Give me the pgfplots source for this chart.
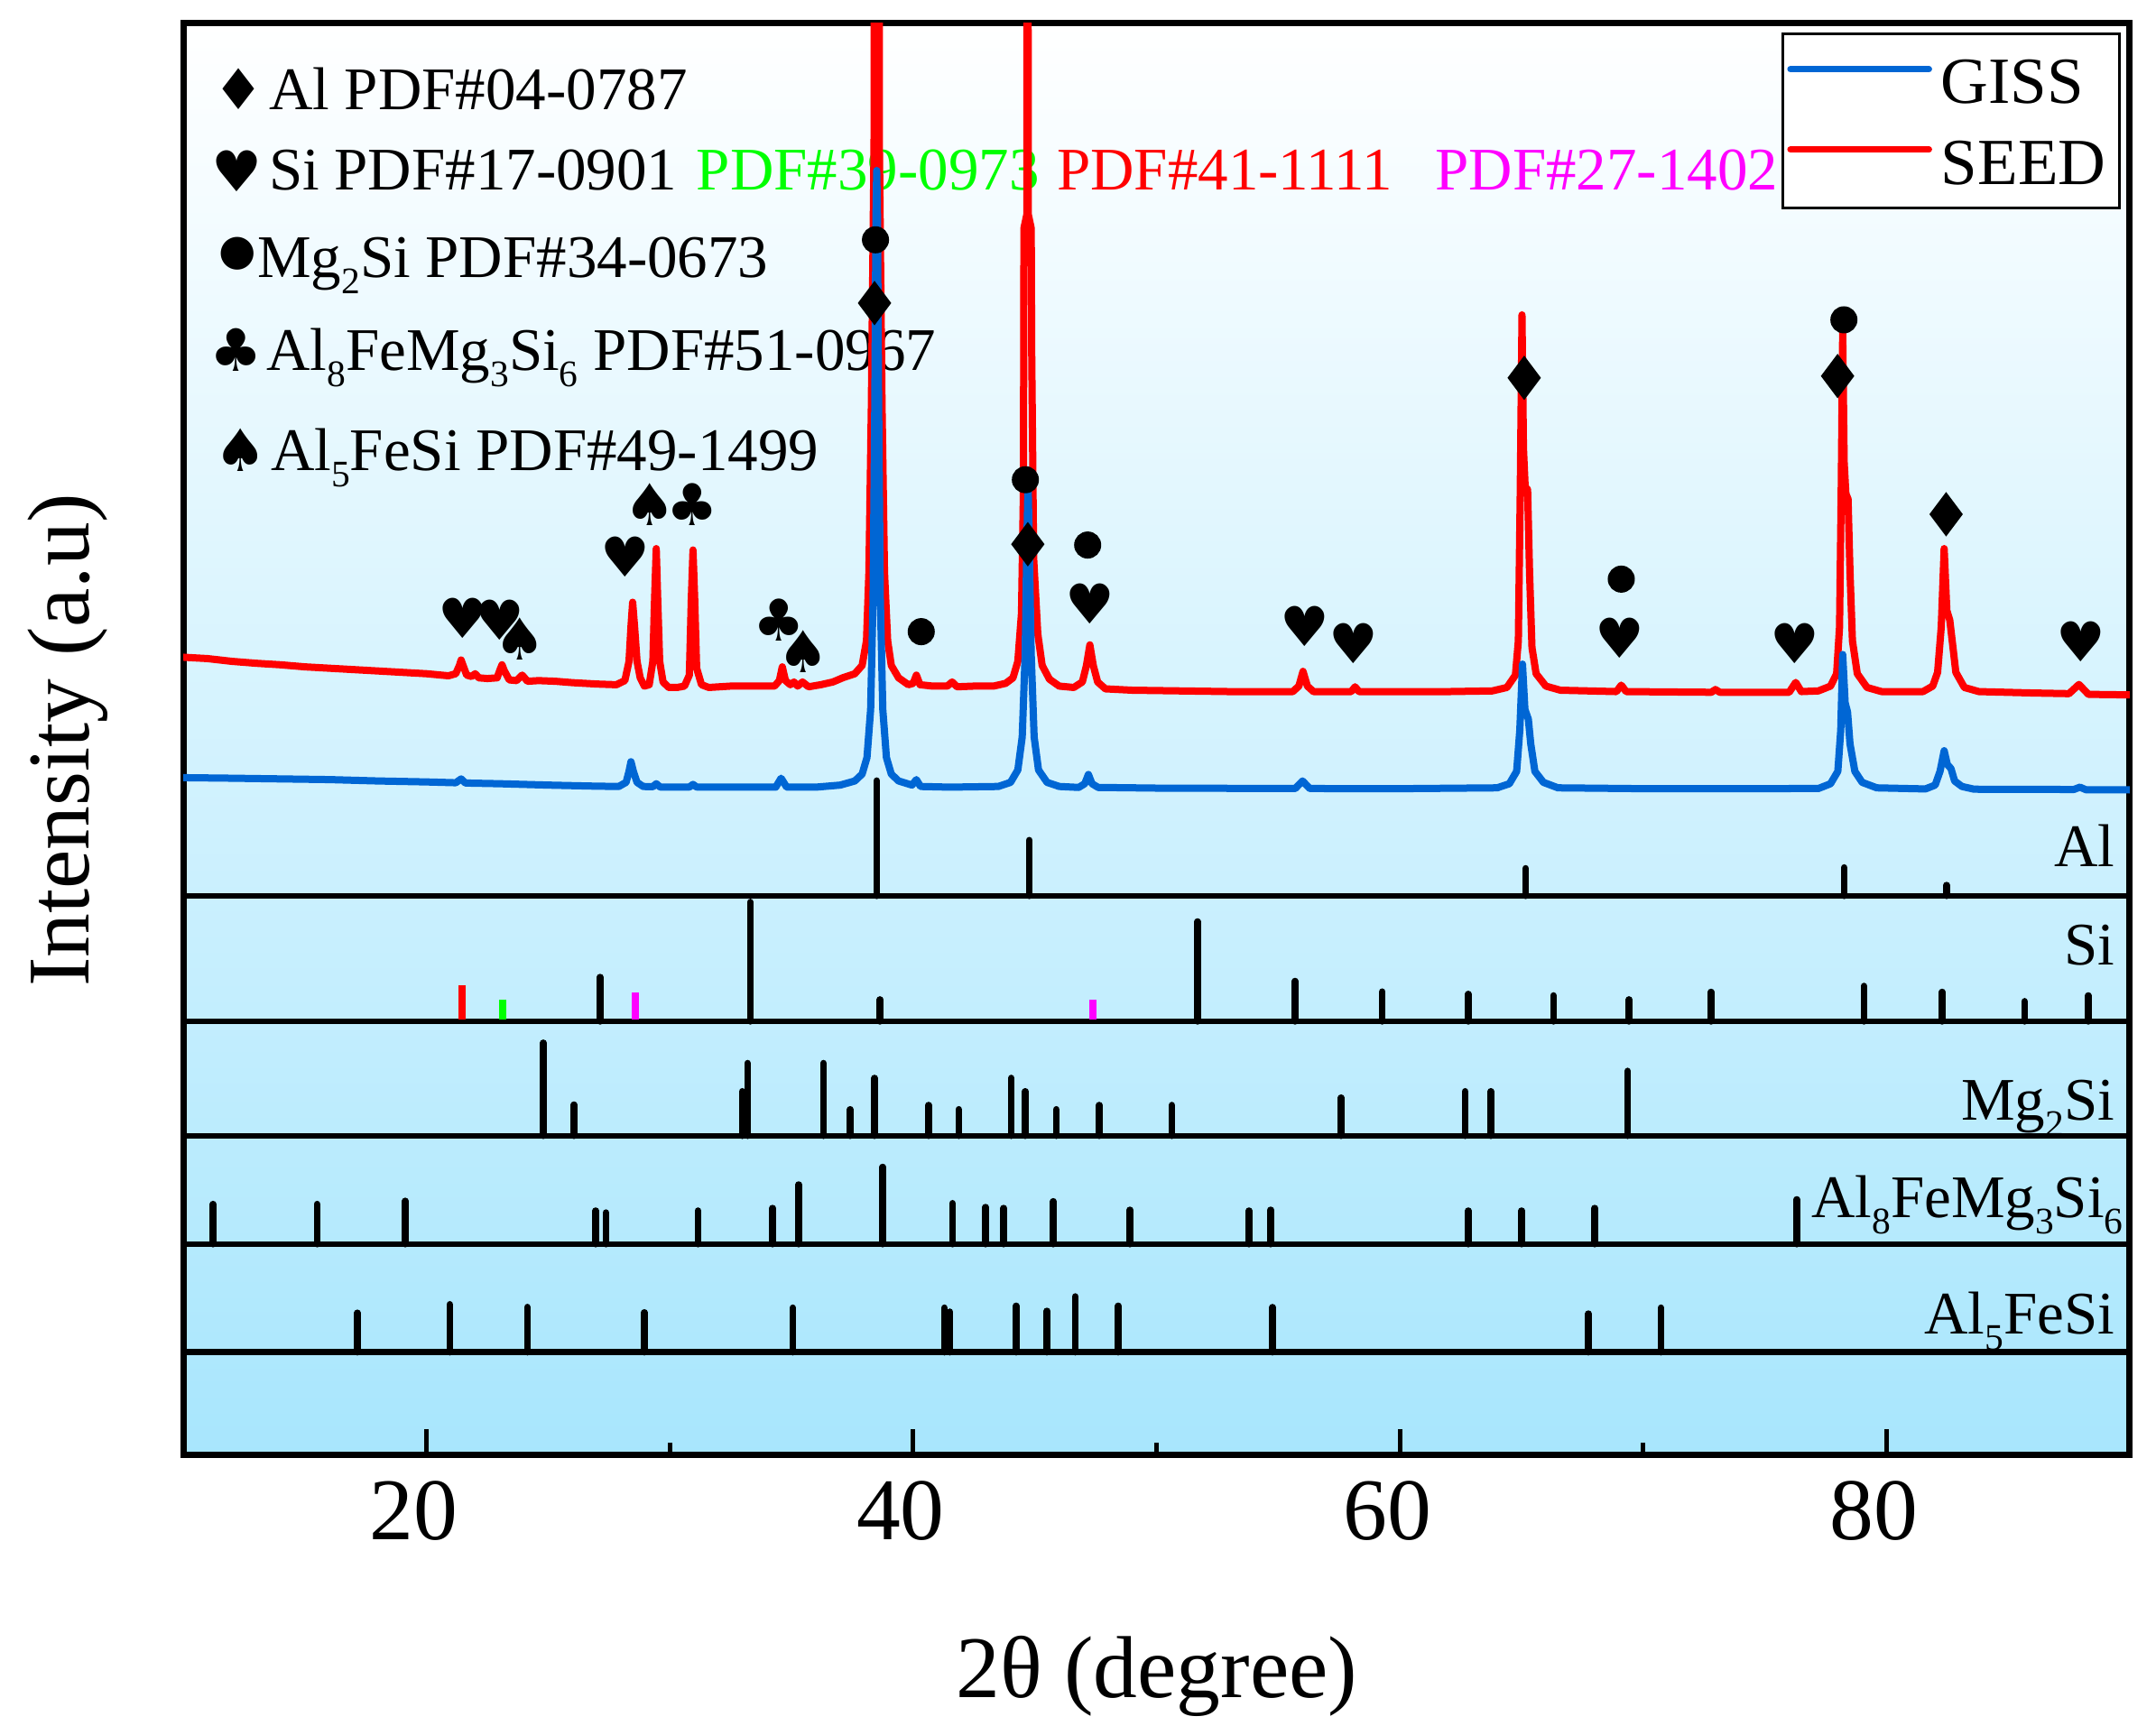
\documentclass[border=0pt]{standalone}
\usepackage{fontspec}
\setmainfont{Liberation Serif}
\newfontfamily\symf{DejaVu Sans}
\usepackage{pgfplots}
\pgfplotsset{compat=1.18}
\definecolor{bluec}{RGB}{0,102,212}
\definecolor{bgc}{RGB}{168,230,253}
\definecolor{grn}{RGB}{0,255,0}
\definecolor{mag}{RGB}{255,0,255}
\newcommand{\sub}[1]{\raisebox{-3.6pt}{\fontsize{8.3}{9}\selectfont #1}}
\tikzset{ann/.style={inner sep=0pt, font=\fontsize{13.4}{16}\selectfont}}
\pgfplotsset{
  stick/.style={black, line width=1.5pt, line cap=round, forget plot},
  cstick/.style={line width=1.6pt, line cap=butt, forget plot},
  sep/.style={black, line width=1.3pt, forget plot},
  tmark/.style 2 args={only marks, mark=text, text mark={#1}, text mark as node=true,
     text mark style={font=\symf\fontsize{#2}{#2}\selectfont, inner sep=0pt, anchor=center, text=black},
     color=black, forget plot},
}
\begin{document}
\begin{tikzpicture}
\path[use as bounding box] (-40.6pt,-62pt) rectangle (437.1pt,322.4pt);
\begin{axis}[
  at={(0,0)}, anchor=south west,
  scale only axis, width=431.3pt, height=317.3pt,
  xmin=10, xmax=90, ymin=-2, ymax=1039.3,
  axis background/.style={top color=white, bottom color=bgc},
  axis line style={line width=1.4pt},
  xtick={20,40,60,80}, minor xtick={30,50,70},
  tick pos=left, ytick=\empty,
  tick align=inside,
  major tick length=5.7pt, minor tick length=2.7pt,
  tick style={black, line width=1pt},
  /pgf/number format/assume math mode=true,
  xticklabel style={font=\fontsize{19.5}{20}\selectfont, anchor=base, yshift=-18.8pt, xshift=-2.8pt},
  unbounded coords=jump,
  legend style={at={(rel axis cs:1,1)}, anchor=north east, xshift=-2pt, yshift=-2.2pt,
     draw=black, line width=0.6pt, fill=white, font=\fontsize{14.6}{16}\selectfont,
     inner xsep=1pt, inner ysep=1.5pt, row sep=0.1pt,
     nodes={inner xsep=2pt, inner ysep=1.5pt, text height=12.4pt, text depth=2.3pt}},
  legend cell align=left,
  legend image code/.code={\draw[#1, line width=1.4pt, line cap=round] (0pt,2.6pt) -- (30.7pt,2.6pt);},
]
\addlegendimage{bluec}\addlegendentry{GISS}
\addlegendimage{red}\addlegendentry{SEED}

% panel separators
\addplot[sep] coordinates {(10,404.5)(90,404.5)};
\addplot[sep] coordinates {(10,313.2)(90,313.2)};
\addplot[sep] coordinates {(10,230)(90,230)};
\addplot[sep] coordinates {(10,151.2)(90,151.2)};
\addplot[sep] coordinates {(10,72.6)(90,72.6)};

% Al sticks
\addplot[stick] coordinates {(38.50,404.5)(38.50,488.2)(38.50,nan)(44.77,404.5)(44.77,444.9)(44.77,nan)
 (65.17,404.5)(65.17,424.4)(65.17,nan)(78.26,404.5)(78.26,425)(78.26,nan)(82.47,404.5)(82.47,412.2)};
% Si sticks
\addplot[stick] coordinates {(27.13,313.2)(27.13,345.3)(27.13,nan)(33.30,313.2)(33.30,399.9)(33.30,nan)
 (38.64,313.2)(38.64,329)(38.64,nan)(51.68,313.2)(51.68,385.7)(51.68,nan)(55.69,313.2)(55.69,342.4)(55.69,nan)
 (59.28,313.2)(59.28,334.7)(59.28,nan)(62.81,313.2)(62.81,333)(62.81,nan)(66.31,313.2)(66.31,331.9)(66.31,nan)
 (69.42,313.2)(69.42,329)(69.42,nan)(72.79,313.2)(72.79,334.5)(72.79,nan)(79.07,313.2)(79.07,338.8)(79.07,nan)
 (82.29,313.2)(82.29,334.5)(82.29,nan)(85.67,313.2)(85.67,327.7)(85.67,nan)(88.29,313.2)(88.29,331.9)};
\addplot[cstick, red] coordinates {(21.47,314.5)(21.47,339.6)};
\addplot[cstick, grn] coordinates {(23.14,314.5)(23.14,329)};
\addplot[cstick, mag] coordinates {(28.58,314.5)(28.58,334.5)(28.58,nan)(47.37,314.5)(47.37,329)};
% Mg2Si sticks
\addplot[stick] coordinates {(24.80,230)(24.80,297.5)(24.80,nan)(26.06,230)(26.06,252.5)(26.06,nan)
 (32.98,230)(32.98,262.2)(32.98,nan)(33.19,230)(33.19,282.7)(33.19,nan)(36.31,230)(36.31,282.7)(36.31,nan)
 (37.41,230)(37.41,249.1)(37.41,nan)(38.41,230)(38.41,271.9)(38.41,nan)(40.63,230)(40.63,252.2)(40.63,nan)
 (41.87,230)(41.87,249.1)(41.87,nan)(44.03,230)(44.03,271.9)(44.03,nan)(44.61,230)(44.61,262.2)(44.61,nan)
 (45.88,230)(45.88,249.1)(45.88,nan)(47.65,230)(47.65,252.2)(47.65,nan)(50.63,230)(50.63,252.2)(50.63,nan)
 (57.59,230)(57.59,257.6)(57.59,nan)(62.68,230)(62.68,262.2)(62.68,nan)(63.74,230)(63.74,262.2)(63.74,nan)
 (69.36,230)(69.36,277)};
% Al8FeMg3Si6 sticks
\addplot[stick] coordinates {(11.23,151.2)(11.23,180.2)(11.23,nan)(15.50,151.2)(15.50,180.2)(15.50,nan)
 (19.13,151.2)(19.13,182.5)(19.13,nan)(26.95,151.2)(26.95,175.4)(26.95,nan)(27.37,151.2)(27.37,174)(27.37,nan)
 (31.15,151.2)(31.15,175.4)(31.15,nan)(34.22,151.2)(34.22,177.3)(34.22,nan)(35.29,151.2)(35.29,194.4)(35.29,nan)
 (38.75,151.2)(38.75,207.2)(38.75,nan)(41.61,151.2)(41.61,180.8)(41.61,nan)(42.98,151.2)(42.98,178)(42.98,nan)
 (43.72,151.2)(43.72,177.3)(43.72,nan)(45.76,151.2)(45.76,182.2)(45.76,nan)(48.91,151.2)(48.91,176)(48.91,nan)
 (53.80,151.2)(53.80,175.4)(53.80,nan)(54.69,151.2)(54.69,176)(54.69,nan)(62.81,151.2)(62.81,175.4)(62.81,nan)
 (65.01,151.2)(65.01,175.4)(65.01,nan)(68.01,151.2)(68.01,177.3)(68.01,nan)(76.31,151.2)(76.31,183.6)};
% Al5FeSi sticks
\addplot[stick] coordinates {(17.16,72.6)(17.16,101.1)(17.16,nan)(20.95,72.6)(20.95,107.3)(20.95,nan)
 (24.14,72.6)(24.14,105.3)(24.14,nan)(28.95,72.6)(28.95,101.4)(28.95,nan)(35.05,72.6)(35.05,104.8)(35.05,nan)
 (41.28,72.6)(41.28,104.8)(41.28,nan)(41.50,72.6)(41.50,101.9)(41.50,nan)(44.23,72.6)(44.23,106.2)(44.23,nan)
 (45.50,72.6)(45.50,102.5)(45.50,nan)(46.66,72.6)(46.66,113)(46.66,nan)(48.43,72.6)(48.43,106.2)(48.43,nan)
 (54.77,72.6)(54.77,105.2)(54.77,nan)(67.75,72.6)(67.75,100.5)(67.75,nan)(70.73,72.6)(70.73,104.8)};

% annotation block
\node[ann, anchor=center, font=\symf\fontsize{12.5}{13}\selectfont] at (axis cs:12.28,990.9) {♦};
\node[ann, anchor=base west] at (axis cs:13.49,976.3) {Al PDF\#04-0787};
\node[ann, anchor=center, font=\symf\fontsize{12.5}{13}\selectfont] at (axis cs:12.20,931.2) {♥};
\node[ann, anchor=base west] at (axis cs:13.49,917.7) {Si PDF\#17-0901};
\node[ann, anchor=base west, text=grn] at (axis cs:31.06,917.7) {PDF\#39-0973};
\node[ann, anchor=base west, text=red] at (axis cs:45.87,917.7) {PDF\#41-1111};
\node[ann, anchor=base west, text=mag] at (axis cs:61.42,917.7) {PDF\#27-1402};
\node[ann, anchor=center, font=\symf\fontsize{9.5}{10}\selectfont] at (axis cs:12.25,871.5) {●};
\node[ann, anchor=base west] at (axis cs:13.01,854.4) {Mg\sub{2}Si PDF\#34-0673};
\node[ann, anchor=center, font=\symf\fontsize{13}{13}\selectfont] at (axis cs:12.16,801.7) {♣};
\node[ann, anchor=base west] at (axis cs:13.39,786.4) {Al\sub{8}FeMg\sub{3}Si\sub{6} PDF\#51-0967};
\node[ann, anchor=center, font=\symf\fontsize{13}{13}\selectfont] at (axis cs:12.36,728.4) {♠};
\node[ann, anchor=base west] at (axis cs:13.56,713.8) {Al\sub{5}FeSi PDF\#49-1499};

% panel labels
\node[ann, anchor=base east] at (axis cs:89.41,425.5) {Al};
\node[ann, anchor=base east] at (axis cs:89.41,354.4) {Si};
\node[ann, anchor=base east] at (axis cs:89.41,241.4) {Mg\sub{2}Si};
\node[ann, anchor=base east] at (axis cs:89.76,170.3) {Al\sub{8}FeMg\sub{3}Si\sub{6}};
\node[ann, anchor=base east] at (axis cs:89.41,85.7) {Al\sub{5}FeSi};

% SEED
\addplot[red, line width=1.6pt, line join=round, forget plot] coordinates {
(10,578)(11,577)(12,575)(13,573.6)(14,572.5)(15,571)(16,570)(17,569)(18,568)(19,567)(20,566)
(20.9,564.5)(21.2,566)(21.35,572)(21.42,576)(21.5,572)(21.65,565)(21.85,564)(22.0,566)(22.15,563)
(22.5,562.5)(22.9,563)(23.02,569)(23.1,572.5)(23.2,568)(23.4,561.5)(23.7,561)(23.93,565)(24.15,560.5)
(24.6,561)(25.3,560.5)(26,559.5)(27,558.5)(27.8,558)(28.15,561)(28.32,575)(28.4,600)(28.47,618)
(28.55,600)(28.65,575)(28.78,563)(28.95,557)(29.15,558)(29.3,575)(29.37,620)(29.44,657)(29.5,620)
(29.58,575)(29.72,560)(29.95,556)(30.3,556)(30.6,557)(30.8,565)(30.88,620)(30.95,656)(31.02,620)
(31.1,570)(31.3,558)(31.6,556)(32.5,557)(33.5,557)(34.3,557)(34.5,561)(34.62,571)(34.75,561)
(34.95,558)(35.1,560)(35.25,557)(35.45,560)(35.7,556.5)(36.2,558)(36.7,560)(37.1,563)(37.6,566)
(37.9,572)(38.08,590)(38.18,640)(38.28,760)(38.39,950)(38.40,1100)(38.60,1100)(38.61,950)(38.72,760)
(38.82,640)(38.95,590)(39.1,572)(39.4,563)(39.8,558)(40.0,559)(40.13,565)(40.28,558)(40.8,557)
(41.4,557)(41.6,560)(41.8,556.5)(42.5,557)(43.3,557)(43.8,559)(44.1,563)(44.3,575)(44.45,610)
(44.53,700)(44.55,890)(44.67,900)(44.68,1100)(44.72,1100)(44.73,900)(44.85,890)(44.87,800)(44.95,650)
(45.12,595)(45.3,572)(45.6,562)(46.0,557)(46.6,556)
(46.95,560)(47.12,572)(47.26,587)(47.4,572)(47.58,560)(47.9,555)(49,554)(51,553.5)(53,553)
(55.6,553)(55.85,557)(56.02,567.7)(56.2,557)(56.45,553)(58.0,553)(58.16,556.5)(58.32,553)(60,553)
(62,553)(63.8,553.5)(64.4,556)(64.75,565)(64.87,590)(64.95,700)(65.02,827)(65.08,730)(65.15,702)
(65.25,700)(65.33,640)(65.43,585)(65.6,566)(66.0,557)(66.6,554)(68.9,553)(69.1,557.7)(69.3,553)
(72.8,552.5)(72.97,554.5)(73.15,552.5)(76.0,552.5)(76.27,559.7)(76.5,553)(77.2,553.5)(77.7,557)
(77.95,566)(78.07,600)(78.14,700)(78.2,814)(78.26,720)(78.33,697)(78.42,693)(78.5,640)(78.6,590)
(78.8,566)(79.2,556)(79.8,553)(81.5,553)(81.9,557)(82.1,567)(82.25,600)(82.37,657)(82.48,612)
(82.6,605)(82.7,590)(82.85,567)(83.2,556)(83.8,553)(86,552)(87.5,551.5)(87.91,558.2)(88.3,551)(90,550.6)};
% GISS
\addplot[bluec, line width=1.6pt, line join=round, forget plot] coordinates {
(10,490.4)(12,490)(14,489.5)(16,489)(18,488)(20,487.3)(21.2,486.7)(21.42,489.5)(21.6,486.5)(23,486)
(25,485)(27,484.2)(27.9,484)(28.2,487)(28.32,495)(28.4,502)(28.5,495)(28.65,487)(28.9,484)(29.3,483.8)
(29.44,486)(29.6,483.6)(30.8,483.6)(30.95,485.5)(31.1,483.6)(33,483.5)(34.35,483.5)(34.57,490)(34.8,483.5)
(36,483.5)(37.0,485)(37.6,488)(37.9,493)(38.1,505)(38.25,540)(38.35,620)(38.42,760)(38.47,900)(38.5,932)
(38.53,900)(38.58,760)(38.65,620)(38.75,540)(38.9,505)(39.1,493)(39.4,488)(39.95,485)(40.13,489)(40.3,484)
(41.5,483.5)(43.5,484)(44.0,487)(44.3,496)(44.48,520)(44.6,580)(44.67,660)(44.72,706)(44.77,660)(44.85,580)
(44.97,520)(45.15,496)(45.5,487)(46.0,484)(46.8,483.3)(47.05,486)(47.2,492.7)(47.35,486)(47.6,483.3)
(50,482.8)(55.7,482.5)(56.0,488)(56.3,482.5)(60,482.4)(64.0,483)(64.5,486)(64.8,495)(64.93,525)(65.04,573)
(65.14,540)(65.28,533)(65.38,515)(65.55,495)(65.9,487)(66.5,483)(70,482.4)(77.2,482.5)(77.7,486)(78.0,495)
(78.12,525)(78.2,580)(78.3,545)(78.4,538)(78.5,515)(78.7,495)(79.0,487)(79.6,483)(81.6,482.2)(82.0,485)
(82.2,495)(82.37,510)(82.5,500)(82.65,497)(82.8,488)(83.1,484)(83.6,482)(87.7,481.8)(87.95,483.5)(88.2,481.6)(90,481.5)};

% peak markers
\addplot[tmark={♥}{12.2}] coordinates {(21.48,606.4)(23.02,605.3)(28.15,651.2)(47.25,617)(56.10,600.4)(58.11,587.8)(69.05,591.6)(76.24,587.8)(87.99,589.1)};
\addplot[tmark={♠}{12.8}] coordinates {(23.84,591.1)(29.17,689)(35.48,582.3)};
\addplot[tmark={♣}{12.8}] coordinates {(30.94,689)(34.49,605.3)};
\addplot[only marks, mark=*, mark size=2.8pt, black, forget plot] coordinates {(38.45,881.6)(40.33,596.6)(44.61,707.1)(47.17,659.6)(69.10,634.8)(78.25,823.4)};
\addplot[only marks, mark=diamond*, mark size=4.6pt, black, forget plot] coordinates {(38.41,835.6)(44.71,660.2)(65.11,781.2)(77.99,782.5)(82.45,682)};
\end{axis}
\node[rotate=90, anchor=base, inner sep=0pt, font=\fontsize{19.5}{20}\selectfont] at (-21pt,158.4pt) {Intensity (a.u)};
\node[anchor=base, inner sep=0pt, font=\fontsize{19.5}{20}\selectfont] at (215.7pt,-53.9pt) {2θ (degree)};
\end{tikzpicture}
\end{document}
